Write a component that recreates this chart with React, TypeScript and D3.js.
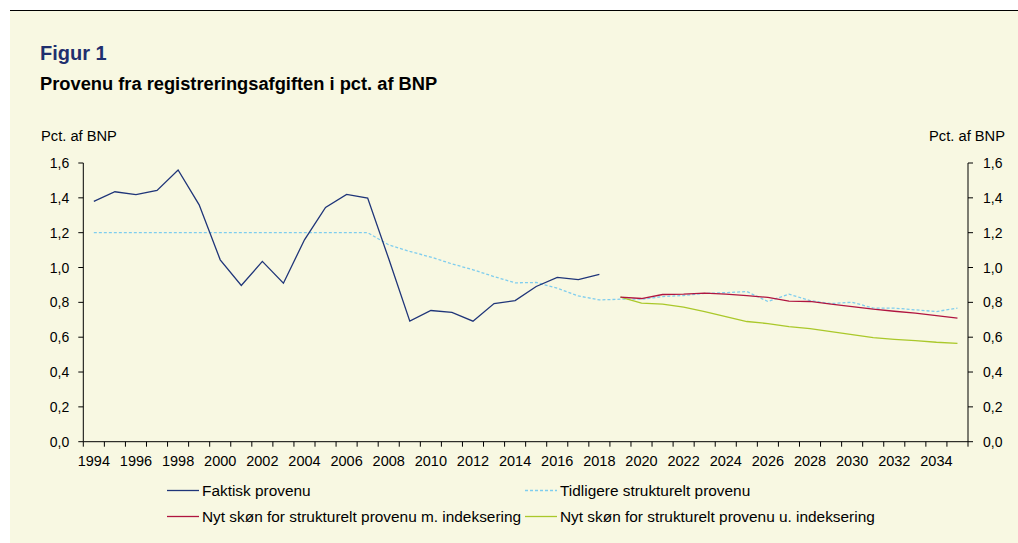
import { line, range, scaleBand, scaleLinear } from "d3";

const years = range(1994, 2036);
const labelYears = range(1994, 2035, 2);
const yTicks = [0, 0.2, 0.4, 0.6, 0.8, 1.0, 1.2, 1.4, 1.6];

const faktiskYears = range(1994, 2019);
const faktisk = [
  1.38, 1.435, 1.418, 1.443, 1.56, 1.36, 1.044, 0.897, 1.035, 0.91, 1.159, 1.345,
  1.42, 1.399, 1.05, 0.692, 0.753, 0.742, 0.692, 0.793, 0.81, 0.891, 0.943, 0.931,
  0.96,
];

const tidligereYears = range(1994, 2036);
const tidligere = [
  1.2, 1.2, 1.2, 1.2, 1.2, 1.2, 1.2, 1.2, 1.2, 1.2, 1.2, 1.2, 1.2, 1.2, 1.13, 1.092,
  1.06, 1.021, 0.987, 0.948, 0.912, 0.914, 0.881, 0.837, 0.814, 0.818, 0.818, 0.833,
  0.839, 0.851, 0.856, 0.862, 0.805, 0.847, 0.81, 0.793, 0.801, 0.767, 0.767, 0.757,
  0.747, 0.767,
];

const nytYears = range(2019, 2036);
const nytMed = [
  0.83, 0.822, 0.845, 0.847, 0.853, 0.847, 0.839, 0.828, 0.807, 0.805, 0.79, 0.776,
  0.761, 0.749, 0.738, 0.724, 0.709,
];
const nytUden = [
  0.83, 0.795, 0.79, 0.772, 0.747, 0.718, 0.69, 0.678, 0.661, 0.649, 0.632, 0.615,
  0.598, 0.588, 0.58, 0.571, 0.565,
];

const seriesNames = [
  "Faktisk provenu",
  "Tidligere strukturelt provenu",
  "Nyt skøn for strukturelt provenu m. indeksering",
  "Nyt skøn for strukturelt provenu u. indeksering",
];

const W = 1018;
const H = 543;
const left = 83.3;
const right = 968;
const top = 163;
const bottom = 441.7;
const font = "Arial, 'Liberation Sans', sans-serif";
const colors = ["#1f3579", "#7fcdee", "#b01540", "#aac82a"];

const fmt = (v: number) => v.toFixed(1).replace(".", ",");

export default function App() {
  const x = scaleBand<number>().domain(years).range([left, right]).padding(0);
  const y = scaleLinear().domain([0, 1.6]).range([bottom, top]);
  const cx = (yr: number) => (x(yr) as number) + x.bandwidth() / 2;

  const mk = (ys: number[], vs: number[]) =>
    line<number>()
      .x((_, i) => cx(ys[i]))
      .y((v) => y(v))(vs) as string;

  const legend = [
    { name: seriesNames[0], color: colors[0], dash: undefined, lx: 167, ly: 490.5 },
    { name: seriesNames[1], color: colors[1], dash: "3 2", lx: 525, ly: 490.5 },
    { name: seriesNames[2], color: colors[2], dash: undefined, lx: 167, ly: 516.5 },
    { name: seriesNames[3], color: colors[3], dash: undefined, lx: 525, ly: 516.5 },
  ];

  return (
    <svg
      width={W}
      height={H}
      style={{ position: "absolute", left: 0, top: 0 }}
      fontFamily={font}
    >
      <rect x={0} y={0} width={W} height={H} fill="#ffffff" />
      <rect x={10} y={11} width={W - 10} height={H - 11} fill="#f8f8e2" />
      <line x1={10} x2={W} y1={10.5} y2={10.5} stroke="#000" strokeWidth={1} />

      <text x={40} y={60} fontSize={20} fontWeight="bold" fill="#1f2f6e">
        Figur 1
      </text>
      <text x={40} y={90} fontSize={18.3} fontWeight="bold" fill="#000">
        Provenu fra registreringsafgiften i pct. af BNP
      </text>
      <text x={41} y={140.5} fontSize={14.7} fill="#000">
        Pct. af BNP
      </text>
      <text x={1005} y={140.5} fontSize={14.7} fill="#000" textAnchor="end">
        Pct. af BNP
      </text>

      {/* axes */}
      <g stroke="#000" strokeWidth={1}>
        <line x1={left} x2={left} y1={top} y2={bottom} />
        <line x1={right} x2={right} y1={top} y2={bottom} />
        <line x1={left} x2={right} y1={bottom} y2={bottom} />
        {yTicks.map((t) => (
          <g key={`yt-${t}`}>
            <line x1={left - 5} x2={left} y1={y(t)} y2={y(t)} />
            <line x1={right} x2={right + 5} y1={y(t)} y2={y(t)} />
          </g>
        ))}
        {years.map((yr) => (
          <line
            key={`xt-${yr}`}
            x1={x(yr)}
            x2={x(yr)}
            y1={bottom}
            y2={bottom + 5}
          />
        ))}
        <line x1={right} x2={right} y1={bottom} y2={bottom + 5} />
      </g>
      {yTicks.map((t) => (
        <g key={`yl-${t}`} fontSize={14} fill="#000">
          <text x={left - 14} y={y(t) + 5} textAnchor="end">
            {fmt(t)}
          </text>
          <text x={right + 15} y={y(t) + 5}>
            {fmt(t)}
          </text>
        </g>
      ))}
      {labelYears.map((yr) => (
        <text
          key={`xl-${yr}`}
          x={cx(yr)}
          y={466}
          fontSize={14.5}
          textAnchor="middle"
          fill="#000"
        >
          {yr}
        </text>
      ))}

      {/* series */}
      <path
        d={mk(tidligereYears, tidligere)}
        fill="none"
        stroke={colors[1]}
        strokeWidth={1.3}
        strokeDasharray="3 2"
      />
      <path d={mk(faktiskYears, faktisk)} fill="none" stroke={colors[0]} strokeWidth={1.3} />
      <path d={mk(nytYears, nytUden)} fill="none" stroke={colors[3]} strokeWidth={1.3} />
      <path d={mk(nytYears, nytMed)} fill="none" stroke={colors[2]} strokeWidth={1.3} />

      {/* legend */}
      {legend.map((d) => (
        <g key={d.name}>
          <line
            x1={d.lx}
            x2={d.lx + 32}
            y1={d.ly}
            y2={d.ly}
            stroke={d.color}
            strokeWidth={1.3}
            strokeDasharray={d.dash}
          />
          <text x={d.lx + 35} y={d.ly + 5} fontSize={15.4} fill="#000">
            {d.name}
          </text>
        </g>
      ))}
    </svg>
  );
}
